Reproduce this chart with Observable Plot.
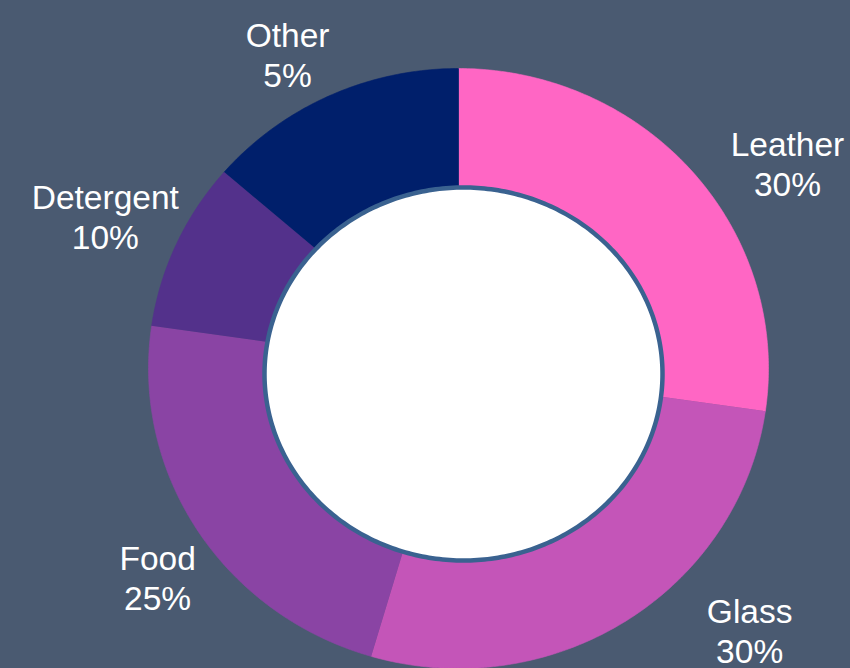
<!DOCTYPE html>
<html>
<head>
<meta charset="utf-8">
<script src="https://cdn.jsdelivr.net/npm/d3@7"></script>
<script src="https://cdn.jsdelivr.net/npm/@observablehq/plot@0.6"></script>
<style>
  html, body { margin: 0; padding: 0; background: #4a5a71; }
  #chart { width: 850px; height: 668px; overflow: hidden; }
</style>
</head>
<body>
<div id="chart"></div>
<script>
// ---- data ----
const categories = ["Leather", "Glass", "Food", "Detergent", "Other"];
const values = [30, 30, 25, 10, 15];
const percentLabels = ["30%", "30%", "25%", "10%", "5%"];
const colors = ["#ff66c4", "#c455b8", "#8a44a4", "#53318b", "#001f6b"];

// ---- geometry (styling) ----
const W = 850, H = 668;
const cx = 458, cy = 368;            // ring centre in pixels
const outerRx = 310, outerRy = 300;  // outer ring radii
const ringInner = 0.55;              // hidden inner radius (covered by disk)
const disk = {dx: 5, dy: 5.5, rx: 199, ry: 186.5};
const labelRx = 385, labelRy = 370;
const labelNudge = [[38, 37], [83, -50], [23, 9], [-3, 1], [-11, 22]];

const rows = categories.map((name, i) => ({name, value: values[i], pct: percentLabels[i], i}));
const arcs = d3.pie().sort(null).value(d => d.value).startAngle(0).endAngle(2 * Math.PI)(rows);

// slice polygons (data units: pixels relative to centre, y downward)
const slicePts = [];
for (const a of arcs) {
  const n = Math.max(4, Math.ceil((a.endAngle - a.startAngle) / 0.01));
  for (let k = 0; k <= n; k++) {
    const t = a.startAngle + (a.endAngle - a.startAngle) * k / n;
    slicePts.push({name: a.data.name, x: outerRx * Math.sin(t), y: -outerRy * Math.cos(t)});
  }
  for (let k = n; k >= 0; k--) {
    const t = a.startAngle + (a.endAngle - a.startAngle) * k / n;
    slicePts.push({name: a.data.name, x: ringInner * outerRx * Math.sin(t), y: -ringInner * outerRy * Math.cos(t)});
  }
}

// centre disk
const diskPts = d3.range(0, 361).map(k => {
  const t = k * Math.PI / 180;
  return {x: disk.dx + disk.rx * Math.sin(t), y: disk.dy - disk.ry * Math.cos(t)};
});

// labels at mid angle
const labelRows = arcs.map(a => {
  const m = (a.startAngle + a.endAngle) / 2;
  return {text: a.data.name + "\n" + a.data.pct, x: labelRx * Math.sin(m), y: -labelRy * Math.cos(m), i: a.data.i};
});

const textMarks = labelRows.map(d => Plot.text([d], {
  x: "x", y: "y", text: "text",
  dx: labelNudge[d.i][0], dy: labelNudge[d.i][1],
  fill: "white", fontSize: 33.5, lineHeight: 1.2,
  textAnchor: "middle", lineAnchor: "middle",
  fontFamily: "'Liberation Sans', Arial, sans-serif"
}));

const chart = Plot.plot({
  width: W, height: H,
  margin: 0,
  style: {background: "#4a5a71", overflow: "visible"},
  x: {domain: [-cx, W - cx], range: [0, W], axis: null},
  y: {domain: [-cy, H - cy], range: [0, H], axis: null},
  color: {domain: categories, range: colors},
  marks: [
    Plot.line(slicePts, {x: "x", y: "y", z: "name", fill: "name", stroke: "name", strokeWidth: 0.6, curve: "linear"}),
    Plot.line(diskPts, {x: "x", y: "y", fill: "white", stroke: "#3a6290", strokeWidth: 4.5, curve: "linear"}),
    ...textMarks
  ]
});
document.getElementById("chart").appendChild(chart);
</script>
</body>
</html>
